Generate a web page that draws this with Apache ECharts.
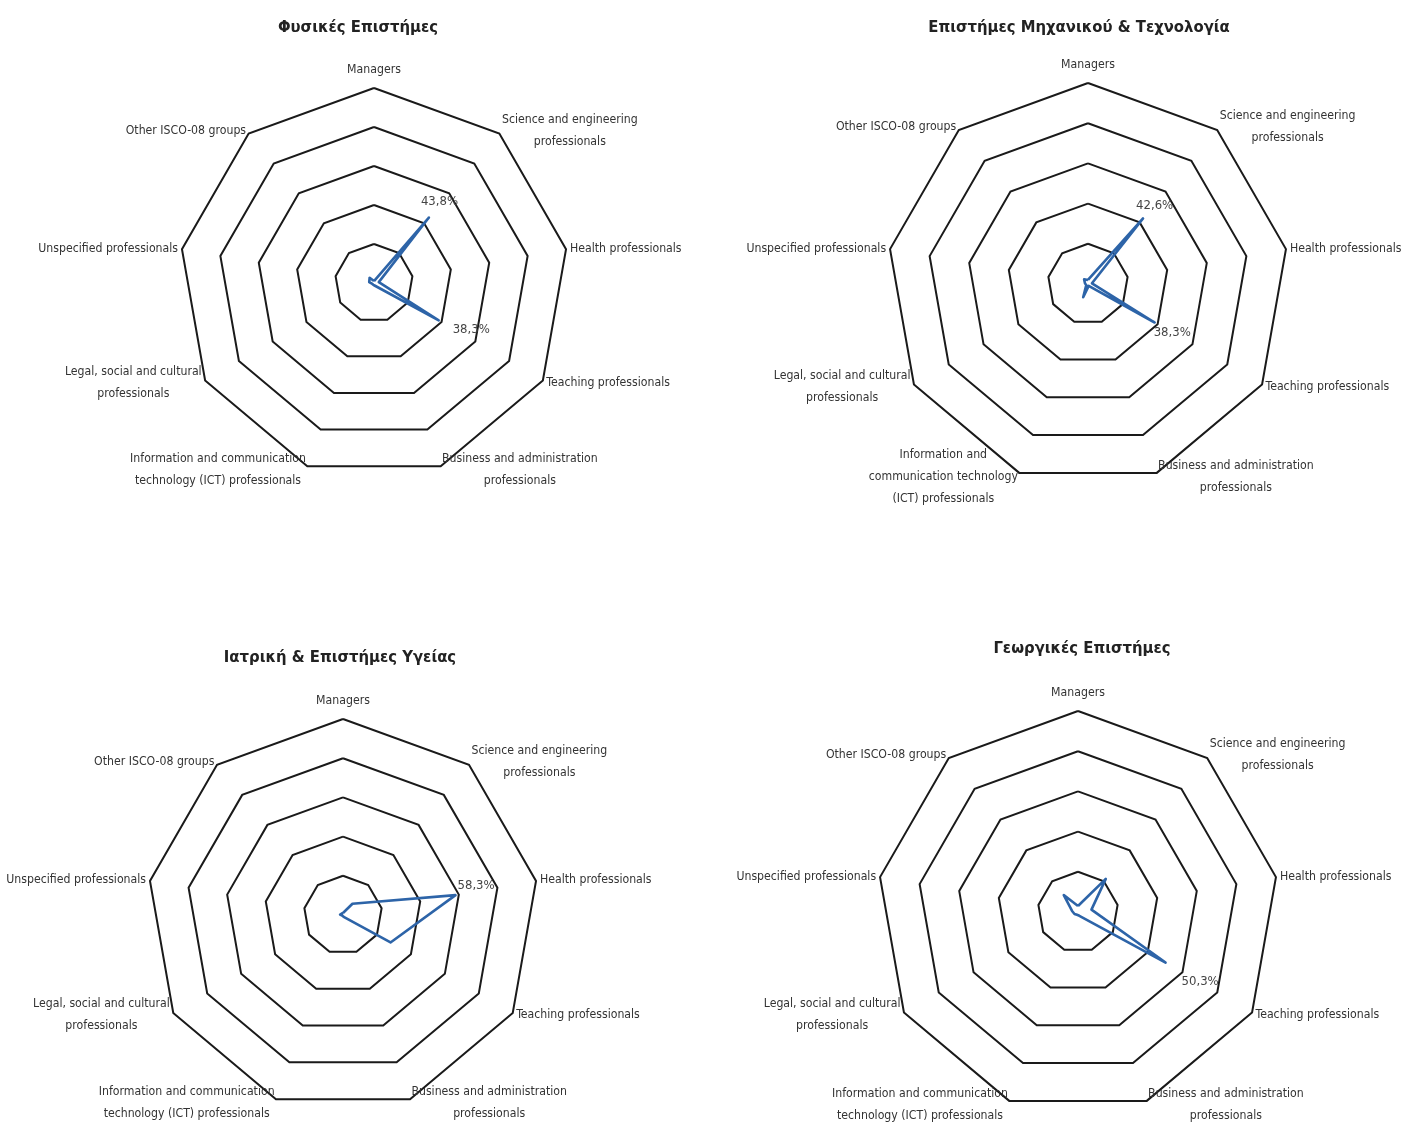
<!DOCTYPE html>
<html><head><meta charset="utf-8">
<script src="https://cdn.jsdelivr.net/npm/echarts@6/dist/echarts.min.js"></script>
<style>html,body{margin:0;padding:0;background:#fff}#c{width:1402px;height:1128px}</style>
</head><body><div id="c"></div>
<script>
// ---- data ----
const categories = ['Managers', 'Science and engineering\nprofessionals', 'Health professionals', 'Teaching professionals',
  'Business and administration\nprofessionals', 'Information and communication\ntechnology (ICT) professionals',
  'Legal, social and cultural\nprofessionals', 'Unspecified professionals', 'Other ISCO-08 groups'];
const categoriesEngineering = ['Managers', 'Science and engineering\nprofessionals', 'Health professionals', 'Teaching professionals',
  'Business and administration\nprofessionals', 'Information and\ncommunication technology\n(ICT) professionals',
  'Legal, social and cultural\nprofessionals', 'Unspecified professionals', 'Other ISCO-08 groups'];
const titles = ['Φυσικές Επιστήμες', 'Επιστήμες Μηχανικού & Τεχνολογία', 'Ιατρική & Επιστήμες Υγείας', 'Γεωργικές Επιστήμες'];
const physicalSciences = [1.0, 43.8, 2.5, 38.3, 1.5, 1.0, 1.0, 2.5, 3.5];
const engineeringTech = [2.0, 42.6, 2.0, 38.3, 1.0, 7.0, 1.0, 1.5, 3.0];
const medicalHealth = [1.0, 7.5, 58.3, 28.0, 1.0, 0.5, 0.5, 1.5, 1.0];
const agricultural = [3.0, 21.5, 6.8, 50.3, 2.0, 1.5, 2.0, 3.0, 11.0];
const labeledIdx = [[1, 3], [1, 3], [2], [3]];
const axisMax = 100;
const ringCount = 5;

// ---- layout / style ----
const FONT = '"DejaVu Sans Condensed", "Liberation Sans Narrow", "Roboto", sans-serif';
const NAME_SIZE = 12.2;
const centers = [[374, 283], [1088, 284], [343, 915], [1078, 912]];
const radii = [195, 201, 196, 201];
const titlePos = [[358, 19], [1079, 19], [340, 649], [1082, 640]];
const labelOffsets = [[[-7, -21], [15, 4]], [[-6, -18], [0, 5]], [[3, -15]], [[17, 14]]];
const LINE = '#2d64a8';
const TEXT = '#333';

const seriesData = [physicalSciences, engineeringTech, medicalHealth, agricultural];
const names = [categories, categoriesEngineering, categories, categories];
// ECharts lays radar indicators counter-clockwise; reorder so they read clockwise
const order = [0, 8, 7, 6, 5, 4, 3, 2, 1];
const fmtPct = v => v.toFixed(1).replace('.', ',') + '%';

const radar = centers.map((c, i) => ({
  center: c, radius: radii[i], startAngle: 90, splitNumber: ringCount, shape: 'polygon',
  indicator: order.map(k => ({ name: names[i][k], min: 0, max: axisMax })),
  nameGap: 4,
  axisName: {
    color: TEXT, fontSize: NAME_SIZE, fontFamily: FONT,
    formatter: n => n === 'Managers' ? '{m|Managers}' : n.split('\n').map(l => '{c|' + l + '}').join('\n'),
    rich: {
      c: { align: 'center', fontSize: NAME_SIZE, lineHeight: 22, fontFamily: FONT, color: TEXT },
      m: { fontSize: NAME_SIZE, fontFamily: FONT, color: TEXT, padding: [0, 0, 8, 0] }
    }
  },
  splitLine: { lineStyle: { color: '#1a1a1a', width: 2 } },
  splitArea: { show: false },
  axisLine: { show: false },
  axisTick: { show: false },
  axisLabel: { show: false }
}));

const series = [];
seriesData.forEach((vals, i) => {
  const ordered = order.map(k => vals[k]);
  series.push({
    type: 'radar', radarIndex: i, silent: true, symbol: 'none',
    lineStyle: { color: LINE, width: 2.6 },
    data: [{ value: ordered }]
  });
  labeledIdx[i].forEach((idx, j) => {
    const target = vals[idx];
    series.push({
      type: 'radar', radarIndex: i, silent: true, symbol: 'circle', symbolSize: 2,
      itemStyle: { color: 'rgba(0,0,0,0)' },
      lineStyle: { width: 0, color: 'rgba(0,0,0,0)' },
      label: {
        show: true, position: labelOffsets[i][j], color: '#444', fontSize: 13, fontFamily: FONT,
        formatter: p => (p.value === target ? fmtPct(target) : '')
      },
      data: [{ value: ordered }]
    });
  });
});

const chart = echarts.init(document.getElementById('c'), null, { renderer: 'canvas' });
chart.setOption({
  backgroundColor: '#fff',
  animation: false,
  title: titles.map((t, i) => ({
    text: t, left: titlePos[i][0], top: titlePos[i][1], textAlign: 'center', padding: 0,
    textStyle: { fontFamily: FONT, fontWeight: 'bold', fontSize: 16.5, color: '#222' }
  })),
  radar: radar,
  series: series
});
</script></body></html>
